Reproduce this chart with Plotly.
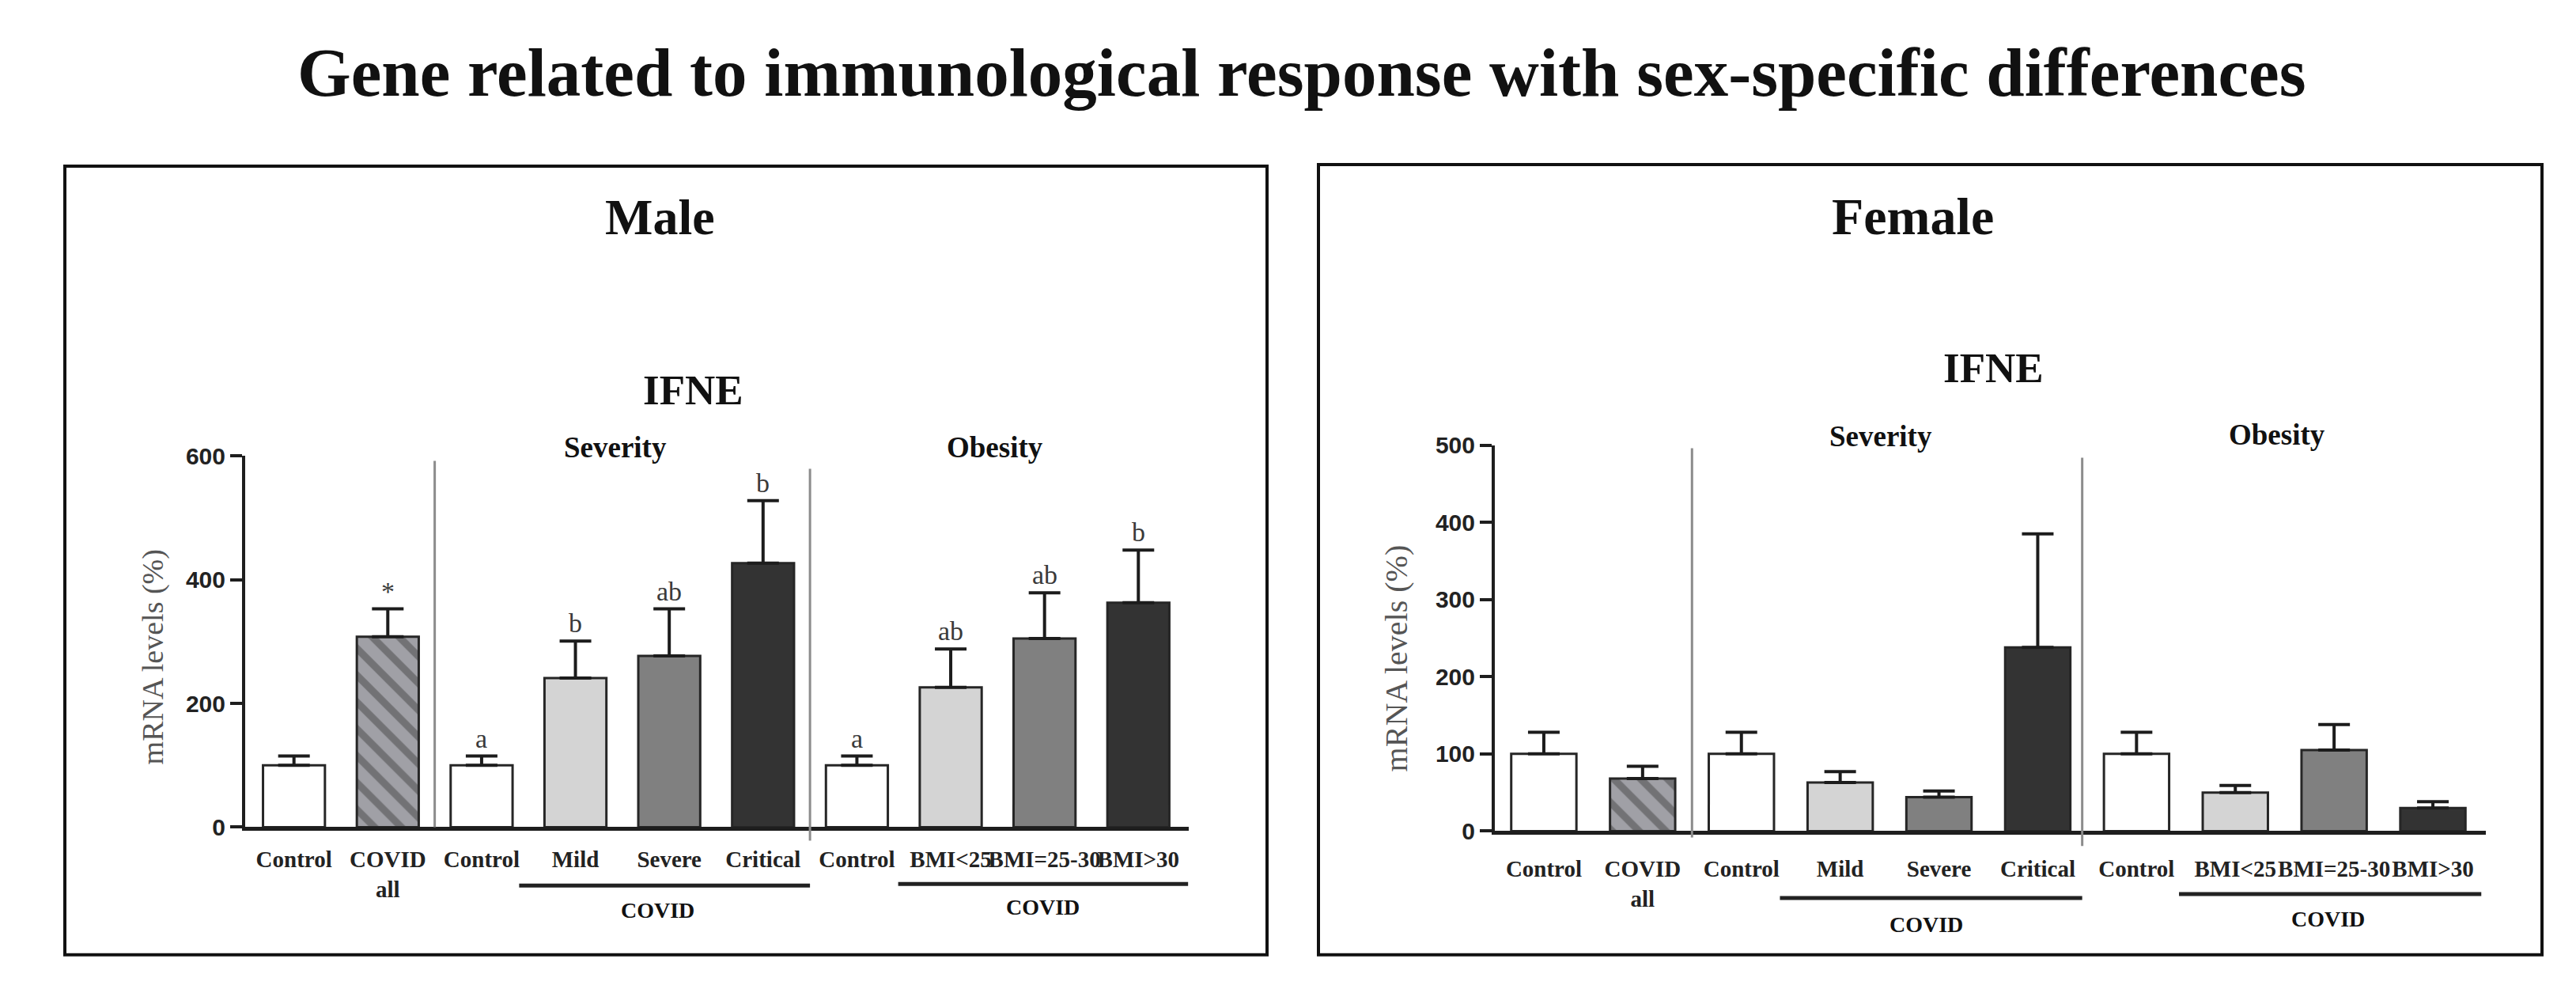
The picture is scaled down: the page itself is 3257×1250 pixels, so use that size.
import plotly.graph_objects as go

W, H = 3257, 1250

# ---------------- data ----------------
categories = ["Control", "COVID<br>all", "Control", "Mild", "Severe", "Critical",
              "Control", "BMI&lt;25", "BMI=25-30", "BMI&gt;30"]
male_mean = [100, 308, 100, 241, 277, 427, 100, 226, 305, 363]
male_sem = [15, 45, 15, 60, 76, 101, 15, 62, 74, 85]
male_letters = ["", "*", "a", "b", "ab", "b", "a", "ab", "ab", "b"]
female_mean = [100, 68, 100, 63, 44, 238, 100, 50, 105, 30]
female_sem = [28, 16, 28, 14, 8, 147, 28, 9, 33, 8]
male_ticks = [0, 200, 400, 600]
female_ticks = [0, 100, 200, 300, 400, 500]

# ---------------- styles ----------------
fill_colors = ["#ffffff", "#a0a0a6", "#ffffff", "#d4d4d4", "#808080", "#333333",
               "#ffffff", "#d4d4d4", "#808080", "#333333"]
patterns = ["", "\\", "", "", "", "", "", "", "", ""]
SERIF = "Liberation Serif"
SANS = "Liberation Sans"

# vertical placement helpers (pixel -> paper fraction)
SY, OY = 0.977, 13.1


def px(x):
    return x / W


def py(y):
    return 1 - ((y - OY) / SY) / H


def bar_trace(means, sems, xa, ya):
    return go.Bar(
        x=list(range(len(means))), y=means, width=0.66,
        xaxis=xa, yaxis=ya, showlegend=False, hoverinfo="skip",
        marker=dict(color=fill_colors,
                    line=dict(color="#262626", width=3),
                    pattern=dict(shape=patterns, fgcolor="#000000",
                                 fillmode="overlay", size=24, solidity=0.38)),
        error_y=dict(type="data", symmetric=False, array=sems,
                     arrayminus=[0] * len(sems), color="#1c1c1c",
                     thickness=4, width=20),
    )


fig = go.Figure()
fig.add_trace(bar_trace(male_mean, male_sem, "x", "y"))
fig.add_trace(bar_trace(female_mean, female_sem, "x2", "y2"))

xcommon = dict(tickvals=list(range(len(categories))), ticktext=categories,
               tickangle=0,
               tickfont=dict(family=SERIF, size=29, color="#222222", weight="bold"),
               showline=True, linecolor="#1e1e1e", linewidth=5, ticks="",
               showgrid=False, zeroline=False, fixedrange=True)
ycommon = dict(ticks="outside", ticklen=15, tickwidth=4, tickcolor="#1e1e1e",
               showline=True, linecolor="#1e1e1e", linewidth=4,
               tickfont=dict(family=SANS, size=30, color="#222222", weight="bold"),
               showgrid=False, zeroline=False, fixedrange=True)

fig.update_layout(
    width=W, height=H,
    margin=dict(l=0, r=0, t=0, b=0),
    paper_bgcolor="white", plot_bgcolor="white",
    xaxis=dict(domain=[px(310), px(1503)], range=[-0.52, 9.537], anchor="y",
               ticklabelstandoff=11, **xcommon),
    yaxis=dict(domain=[py(1046), py(575)], range=[0, 600], anchor="x",
               tickvals=male_ticks, **ycommon),
    xaxis2=dict(domain=[px(1890), px(3143)], range=[-0.496, 9.536], anchor="y2",
                ticklabelstandoff=18, **xcommon),
    yaxis2=dict(domain=[py(1051), py(561)], range=[0, 500], anchor="x2",
                tickvals=female_ticks, **ycommon),
)

ann = []


def text(x, y, s, size, bold=True, xref="paper", color="#111111", family=SERIF,
         angle=0, **kw):
    ann.append(dict(x=x, y=y, xref=xref, yref="paper", text=s, showarrow=False,
                    xanchor="center", yanchor="middle", textangle=angle,
                    font=dict(family=family, size=size, color=color,
                              weight="bold" if bold else "normal"), **kw))


text(px(1646), py(88), "Gene related to immunological response with sex-specific differences", 87)
text(px(834), py(272), "Male", 64)
text(px(2418), py(271), "Female", 66)
text(px(876), py(491), "IFNE", 53)
text(px(2520), py(463), "IFNE", 53)
text(px(778), py(564), "Severity", 37)
text(px(1258), py(564), "Obesity", 37)
text(px(2378), py(550), "Severity", 37)
text(px(2879), py(548), "Obesity", 37)
text(3.88, py(1151), "COVID", 28, xref="x")
text(7.98, py(1147), "COVID", 28, xref="x")
text(3.87, py(1170), "COVID", 28, xref="x2")
text(7.94, py(1163), "COVID", 28, xref="x2")
text(px(193), py(830), "mRNA levels (%)", 38, bold=False, color="#555555", angle=-90)
text(px(1765), py(831), "mRNA levels (%)", 40, bold=False, color="#555555", angle=-90)

for i, (m, s, lab) in enumerate(zip(male_mean, male_sem, male_letters)):
    if lab:
        ann.append(dict(x=i, y=m + s, xref="x", yref="y", text=lab, showarrow=False,
                        xanchor="center", yanchor="bottom", yshift=2,
                        font=dict(family=SERIF, size=34, color="#3a3a3a")))

fig.update_layout(annotations=ann)

shapes = []
# panel frames
for (x0, x1, y0, y1) in [(82, 1602, 207, 1208), (1667, 3214, 205, 1208)]:
    shapes.append(dict(type="rect", xref="paper", yref="paper",
                       x0=px(x0), x1=px(x1), y0=py(y1), y1=py(y0),
                       line=dict(color="#111111", width=4), fillcolor="rgba(0,0,0,0)"))
# group dividers
for (xr, xv, ytop, ybot) in [("x", 1.5, 581, 1046), ("x", 5.5, 591, 1063),
                             ("x2", 1.5, 565, 1059), ("x2", 5.45, 577, 1070)]:
    shapes.append(dict(type="line", xref=xr, yref="paper", x0=xv, x1=xv,
                       y0=py(ybot), y1=py(ytop), line=dict(color="#8c8c8c", width=3)))
# COVID underlines
for (xr, a, b, yy) in [("x", 2.40, 5.5, 1120), ("x", 6.44, 9.53, 1118),
                       ("x2", 2.39, 5.45, 1136), ("x2", 6.43, 9.49, 1131)]:
    shapes.append(dict(type="line", xref=xr, yref="paper", x0=a, x1=b,
                       y0=py(yy), y1=py(yy), line=dict(color="#222222", width=5)))
fig.update_layout(shapes=shapes)

fig.write_html("out.html", config={"displayModeBar": False},
               post_script="document.body.style.margin='0';"
                           "document.body.style.overflow='hidden';")
